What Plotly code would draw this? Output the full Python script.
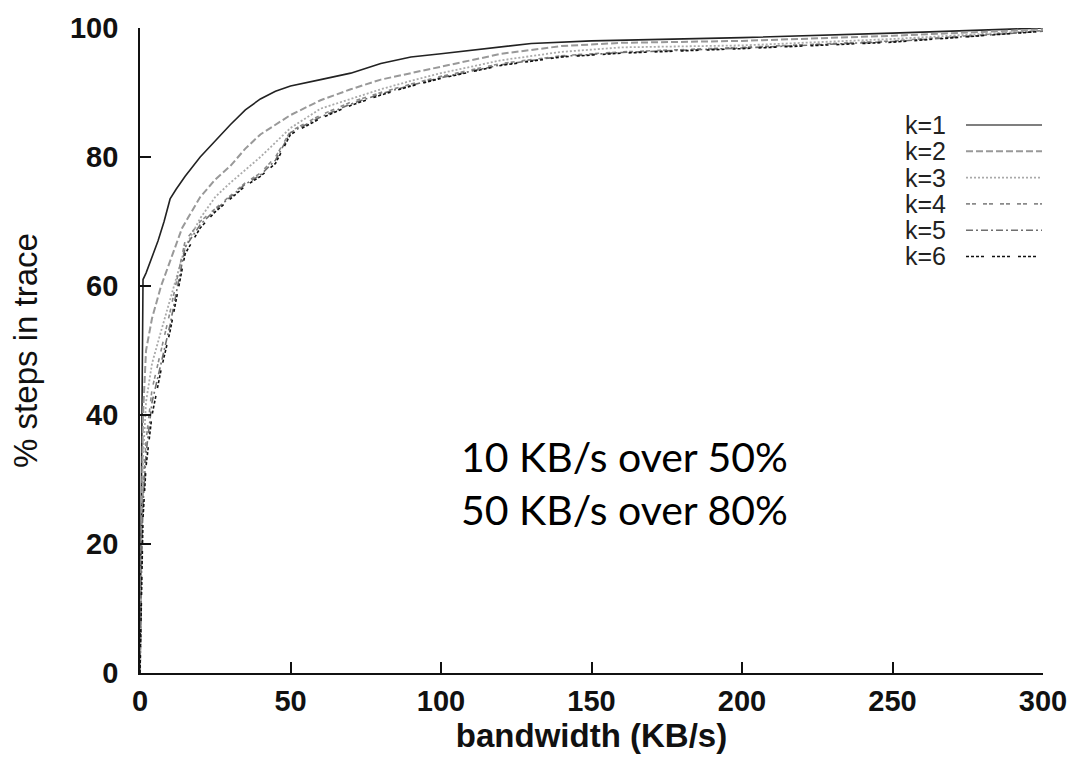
import plotly.graph_objects as go

# ---- data ----
names = ["k=1", "k=2", "k=3", "k=4", "k=5", "k=6"]

x_k1 = [0, 0.3, 0.8, 1, 2, 4, 6, 8, 10, 12, 15, 20, 25, 30, 35, 40, 45, 50, 60, 70, 80, 90, 100, 110, 120, 130, 150, 200, 250, 300]
y_k1 = [0, 20, 48, 61, 62, 64.5, 67, 70, 73.5, 75, 77, 80, 82.5, 85, 87.3, 89, 90.2, 91, 92, 93, 94.5, 95.5, 96, 96.5, 97, 97.6, 98, 98.5, 99.2, 100]

x_k2 = [0, 0.5, 1, 2, 4, 7, 10, 14, 20, 25, 30, 35, 40, 50, 60, 70, 80, 90, 100, 120, 140, 160, 200, 250, 300]
y_k2 = [0, 25, 40, 50, 55, 60, 64, 69, 73.8, 76.5, 78.6, 81.3, 83.5, 86.5, 88.8, 90.5, 92, 93, 94, 96, 97.2, 97.7, 98, 98.8, 99.8]

x_k3 = [0, 0.5, 1, 2, 4, 7, 10, 15, 20, 25, 30, 40, 50, 60, 70, 80, 90, 100, 120, 140, 160, 200, 250, 300]
y_k3 = [0, 22, 33, 42, 48, 53, 58, 66, 70.5, 73.8, 76, 80, 84.5, 87.5, 89, 90.5, 91.8, 93, 95, 96.3, 97, 97.3, 98.3, 99.6]

x_k4 = [0, 0.5, 1, 2, 4, 7, 10, 15, 20, 25, 30, 35, 40, 45, 50, 60, 70, 80, 90, 100, 120, 140, 160, 200, 250, 300]
y_k4 = [0, 20, 28, 36, 44, 50, 56, 67, 70, 72, 74, 76, 77.5, 80, 84, 86.5, 88.5, 90, 91.3, 92.5, 94.5, 95.7, 96.3, 97, 98, 99.6]

x_k5 = [0, 0.5, 1, 2, 4, 7, 10, 15, 20, 25, 30, 35, 40, 45, 50, 60, 70, 80, 90, 100, 120, 140, 160, 200, 250, 300]
y_k5 = [0, 18, 26, 34, 42, 48, 54, 66, 69.5, 71.8, 73.8, 75.8, 77.2, 79.5, 83.8, 86.2, 88.2, 89.8, 91.1, 92.3, 94.3, 95.6, 96.2, 96.9, 97.9, 99.5]

x_k6 = [0, 0.5, 1, 2, 4, 7, 10, 15, 20, 25, 30, 35, 40, 45, 50, 60, 70, 80, 90, 100, 120, 140, 160, 200, 250, 300]
y_k6 = [0, 15, 24, 32, 40, 47, 53, 65, 69, 71.5, 73.5, 75.5, 77, 79, 83.5, 86, 88, 89.6, 91, 92.2, 94.2, 95.5, 96.1, 96.8, 97.8, 99.5]

xs = [x_k1, x_k2, x_k3, x_k4, x_k5, x_k6]
ys = [y_k1, y_k2, y_k3, y_k4, y_k5, y_k6]

x_ticks = [0, 50, 100, 150, 200, 250, 300]
y_ticks = [0, 20, 40, 60, 80, 100]

note_lines = ["10 KB/s over 50%", "50 KB/s over 80%"]

# ---- styles ----
colors = ["#222222", "#999999", "#aaaaaa", "#8a8a8a", "#6f6f6f", "#111111"]
leg_colors = ["#555555", "#999999", "#aaaaaa", "#8a8a8a", "#6f6f6f", "#111111"]
dashes = ["solid", "7px,3px", "2px,2px", "4px,2px,4px,7px", "7px,3px,2px,3px", "3px,2px,3px,2px,3px,2px,3px,8px"]
widths = [1.6, 2.0, 1.8, 1.6, 1.6, 1.6]

fig = go.Figure()
for name, x, y, c, d, w in zip(names, xs, ys, colors, dashes, widths):
    fig.add_trace(go.Scatter(x=x, y=y, mode="lines", name=name,
                             line=dict(color=c, dash=d, width=w),
                             showlegend=False, cliponaxis=False))

W, H = 1080, 760
ml, mr, mt, mb = 140, 37, 28, 87

fig.update_layout(
    width=W, height=H,
    margin=dict(l=ml, r=mr, t=mt, b=mb),
    paper_bgcolor="white", plot_bgcolor="white",
    font=dict(family="Liberation Sans, Arial, sans-serif", color="#111"),
    xaxis=dict(range=[0, 300], tickvals=x_ticks, ticks="inside", ticklen=11, tickwidth=1.5,
               tickcolor="#111", showline=True, linecolor="#111", linewidth=1.8,
               showgrid=False, zeroline=False, ticklabelstandoff=1,
               tickfont=dict(size=29, weight="bold", family="Liberation Sans, Arial"),
               title=dict(text="bandwidth (KB/s)", standoff=6,
                          font=dict(size=33, weight="bold", family="Liberation Sans, Arial"))),
    yaxis=dict(range=[0, 100], tickvals=y_ticks, ticks="inside", ticklen=11, tickwidth=1.5,
               tickcolor="#111", showline=True, linecolor="#111", linewidth=1.8,
               showgrid=False, zeroline=False, ticklabelstandoff=14,
               tickfont=dict(size=29, weight="bold", family="Liberation Sans, Arial"),
               title=dict(text="% steps in trace", standoff=22,
                          font=dict(size=33, family="Liberation Sans, Arial"))),
)

# ---- manual legend (text on left, line sample on right) ----
pw = W - ml - mr
ph = H - mt - mb
leg_text_right = (948 - ml) / pw
leg_line_x0 = (966 - ml) / pw
leg_line_x1 = (1042 - ml) / pw
leg_y0 = (H - mb - 125) / ph
leg_step = 26.3 / ph
for i, (name, c, d, w) in enumerate(zip(names, leg_colors, dashes, widths)):
    yy = leg_y0 - i * leg_step
    fig.add_annotation(x=leg_text_right, y=yy, xref="paper", yref="paper",
                       text=name, showarrow=False, xanchor="right", yanchor="middle",
                       font=dict(size=25, color="#222", family="Liberation Sans, Arial"))
    fig.add_shape(type="line", xref="paper", yref="paper",
                  x0=leg_line_x0, x1=leg_line_x1, y0=yy, y1=yy,
                  line=dict(color=c, dash=d, width=w))

# ---- note text ----
fig.add_annotation(x=(624 - ml) / pw, y=(H - mb - 483) / ph, xref="paper", yref="paper",
                   text="<br>".join(note_lines), showarrow=False, align="center",
                   xanchor="center", yanchor="middle",
                   font=dict(size=41, color="#000", family="Lato, Open Sans, sans-serif"))

fig.write_html("out.html")
